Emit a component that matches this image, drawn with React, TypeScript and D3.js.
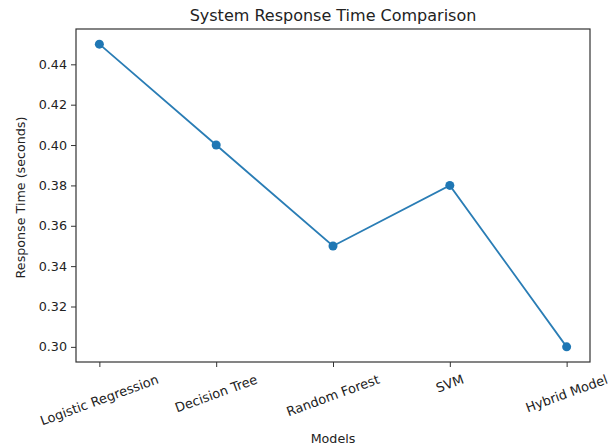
import { useEffect, useRef } from "react"
import * as d3 from "d3"

const models = ["Logistic Regression", "Decision Tree", "Random Forest", "SVM", "Hybrid Model"]
const responseTimes = [0.45, 0.4, 0.35, 0.38, 0.3]
const yTicks = [0.3, 0.32, 0.34, 0.36, 0.38, 0.4, 0.42, 0.44]

export default function App() {
  const svgRef = useRef<SVGSVGElement>(null)

  useEffect(() => {
    if (!svgRef.current) return

    const width = 608
    const height = 447
    const margin = { top: 29, right: 18, bottom: 85, left: 76 }
    const innerW = width - margin.left - margin.right
    const innerH = height - margin.top - margin.bottom
    const font = "DejaVu Sans, sans-serif"

    d3.select(svgRef.current).selectAll("*").remove()

    const root = d3.select(svgRef.current).attr("width", width).attr("height", height)

    const svg = root.append("g").attr("transform", `translate(${margin.left},${margin.top})`)

    // matplotlib-like 5% margins
    const x = d3.scaleLinear().domain([-0.2, models.length - 0.8]).range([0, innerW])
    const yMin = d3.min(responseTimes) as number
    const yMax = d3.max(responseTimes) as number
    const pad = (yMax - yMin) * 0.05
    const y = d3.scaleLinear().domain([yMin - pad, yMax + pad]).range([innerH, 0])

    // Y axis
    const yAxis = svg
      .append("g")
      .call(
        d3
          .axisLeft(y)
          .tickValues(yTicks)
          .tickFormat(d3.format(".2f"))
          .tickSize(5)
          .tickPadding(4)
      )
    yAxis.select(".domain").remove()
    yAxis.selectAll("text").attr("font-family", font).attr("font-size", 12.7).attr("fill", "#222")
    yAxis.selectAll("line").attr("stroke", "#333")

    // X axis ticks
    const xAxis = svg
      .append("g")
      .attr("transform", `translate(0,${innerH})`)
      .call(d3.axisBottom(x).tickValues(d3.range(models.length)).tickFormat(() => "").tickSize(5))
    xAxis.select(".domain").remove()
    xAxis.selectAll("line").attr("stroke", "#333")

    // rotated x tick labels, centered below tick (matplotlib default rotation mode)
    const angle = -20
    const rad = (Math.abs(angle) * Math.PI) / 180
    const fs = 13
    const labelTop = innerH + 10
    svg
      .append("g")
      .selectAll("text")
      .data(models)
      .join("text")
      .attr("font-family", font)
      .attr("font-size", fs)
      .attr("fill", "#222")
      .attr("text-anchor", "middle")
      .attr("dominant-baseline", "central")
      .text((d) => d)
      .each(function (_, i) {
        const el = this as SVGTextElement
        const w = el.getComputedTextLength()
        const h = fs * 1.1
        const rh = w * Math.sin(rad) + h * Math.cos(rad)
        const cx = x(i)
        const cy = labelTop + rh / 2
        d3.select(el).attr("x", cx).attr("y", cy).attr("transform", `rotate(${angle},${cx},${cy})`)
      })

    // Line
    const line = d3
      .line<number>()
      .x((_, i) => x(i))
      .y((d) => y(d))

    svg
      .append("path")
      .datum(responseTimes)
      .attr("fill", "none")
      .attr("stroke", "#2a7db5")
      .attr("stroke-width", 1.8)
      .attr("d", line)

    svg
      .selectAll("circle")
      .data(responseTimes)
      .join("circle")
      .attr("cx", (_, i) => x(i))
      .attr("cy", (d) => y(d))
      .attr("r", 4.5)
      .attr("fill", "#1f77b4")

    // Frame
    svg
      .append("rect")
      .attr("width", innerW)
      .attr("height", innerH)
      .attr("fill", "none")
      .attr("stroke", "#333")
      .attr("stroke-width", 1.2)

    // Title and labels
    root
      .append("text")
      .attr("x", margin.left + innerW / 2)
      .attr("y", 21)
      .attr("text-anchor", "middle")
      .attr("font-family", font)
      .attr("font-size", 16)
      .attr("fill", "#222")
      .text("System Response Time Comparison")

    root
      .append("text")
      .attr("x", margin.left + innerW / 2)
      .attr("y", 443)
      .attr("text-anchor", "middle")
      .attr("font-family", font)
      .attr("font-size", 12.7)
      .attr("fill", "#222")
      .text("Models")

    root
      .append("text")
      .attr("transform", `translate(25,${margin.top + innerH / 2 + 2}) rotate(-90)`)
      .attr("text-anchor", "middle")
      .attr("font-family", font)
      .attr("font-size", 12.7)
      .attr("fill", "#222")
      .text("Response Time (seconds)")
  }, [])

  return (
    <div style={{ position: "absolute", left: 0, top: 0 }}>
      <svg ref={svgRef} style={{ display: "block" }} />
    </div>
  )
}
